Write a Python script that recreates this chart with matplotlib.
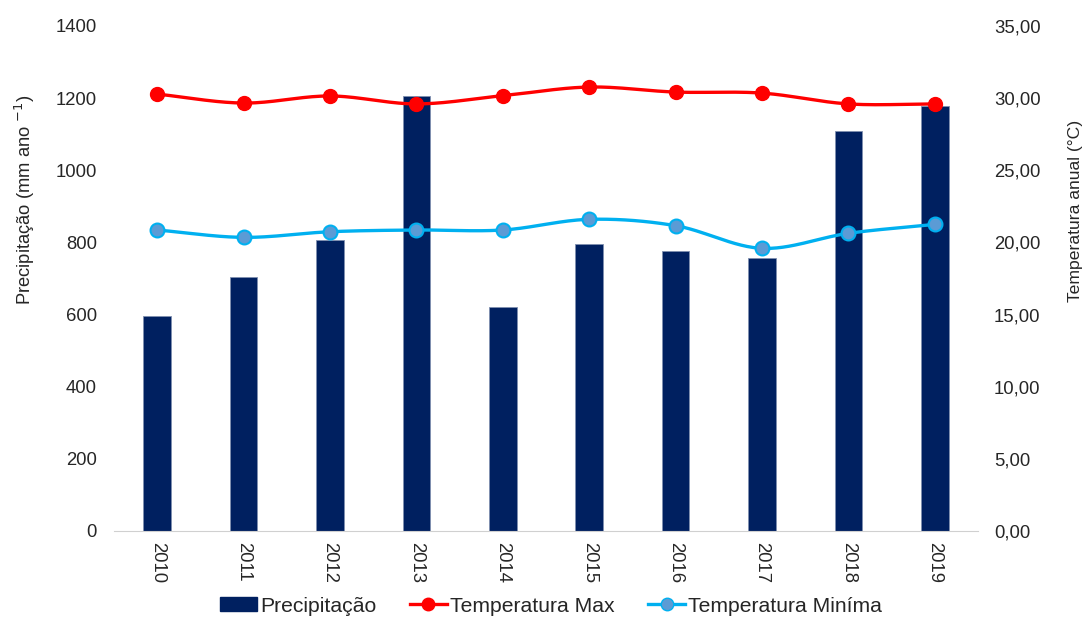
import numpy as np
import matplotlib
matplotlib.use("Agg")
import matplotlib.pyplot as plt
from matplotlib.ticker import FuncFormatter
from matplotlib.lines import Line2D
from matplotlib.patches import Patch

plt.rcParams['font.family'] = ['Liberation Sans', 'DejaVu Sans']

years = ['2010', '2011', '2012', '2013', '2014', '2015', '2016', '2017', '2018', '2019']
precipitacao = [595, 704, 807, 1205, 621, 796, 776, 757, 1109, 1178]
temp_max = [30.28, 29.66, 30.15, 29.60, 30.17, 30.77, 30.42, 30.35, 29.60, 29.60]
temp_min = [20.86, 20.35, 20.74, 20.86, 20.86, 21.60, 21.16, 19.59, 20.63, 21.25]

BAR = '#002060'
RED = '#FF0000'
CYAN = '#00B0F0'
MARK_MIN = '#5B9BD5'
TXT = '#262626'


def smooth(x, y, n=30):
    """Catmull-Rom curve through the points, like a spreadsheet's smoothed line."""
    x = np.asarray(x, float)
    y = np.asarray(y, float)
    px = np.concatenate([[2 * x[0] - x[1]], x, [2 * x[-1] - x[-2]]])
    py = np.concatenate([[2 * y[0] - y[1]], y, [2 * y[-1] - y[-2]]])
    xs, ys = [], []
    t = np.linspace(0, 1, n)
    for i in range(1, len(px) - 2):
        p0x, p1x, p2x, p3x = px[i - 1:i + 3]
        p0y, p1y, p2y, p3y = py[i - 1:i + 3]
        t2, t3 = t * t, t * t * t
        cx = 0.5 * (2 * p1x + (-p0x + p2x) * t + (2 * p0x - 5 * p1x + 4 * p2x - p3x) * t2 + (-p0x + 3 * p1x - 3 * p2x + p3x) * t3)
        cy = 0.5 * (2 * p1y + (-p0y + p2y) * t + (2 * p0y - 5 * p1y + 4 * p2y - p3y) * t2 + (-p0y + 3 * p1y - 3 * p2y + p3y) * t3)
        xs.append(cx)
        ys.append(cy)
    return np.concatenate(xs), np.concatenate(ys)


fig = plt.figure(figsize=(10.89, 6.19), dpi=100)
ax = fig.add_axes([0.1047, 0.1422, 0.7933, 0.8158])
x = np.arange(len(years))

ax.bar(x, precipitacao, width=0.32, color=BAR, edgecolor='#8090b0', linewidth=0.6, zorder=2)
ax.set_ylim(0, 1400)
ax.set_yticks(np.arange(0, 1401, 200))
ax.set_xlim(-0.5, len(years) - 0.5)
ax.set_xticks(x)
ax.set_xticklabels(years, rotation=-90)
ax.tick_params(axis='both', length=0, labelsize=13.3, colors=TXT)
ax.tick_params(axis='y', pad=12.2)
ax.tick_params(axis='x', pad=7.7)
for s in ['top', 'left', 'right']:
    ax.spines[s].set_visible(False)
ax.spines['bottom'].set_color('#d0d0d0')

ax2 = ax.twinx()
ax2.set_ylim(0, 35)
ax2.set_yticks(np.arange(0, 35.1, 5))
ax2.yaxis.set_major_formatter(FuncFormatter(lambda v, p: f'{v:.2f}'.replace('.', ',')))
ax2.tick_params(axis='y', length=0, labelsize=13.3, colors=TXT, pad=11.5)
for s in ['top', 'left', 'right', 'bottom']:
    ax2.spines[s].set_visible(False)

fig.text(0.023, 0.677, 'Precipitação (mm ano $^{-1}$)', rotation=90, ha='center', va='center',
         fontsize=13.2, color=TXT)
fig.text(0.988, 0.660, 'Temperatura anual (°C)', rotation=90, ha='center', va='center',
         fontsize=12.6, color=TXT)

sx, sy = smooth(x, temp_max)
ax2.plot(sx, sy, color=RED, lw=2.4, zorder=3, solid_capstyle='round')
ax2.plot(x, temp_max, 'o', color=RED, ms=10, zorder=4)
sx, sy = smooth(x, temp_min)
ax2.plot(sx, sy, color=CYAN, lw=2.4, zorder=3, solid_capstyle='round')
ax2.plot(x, temp_min, 'o', color=MARK_MIN, mec=CYAN, mew=1.5, ms=10, zorder=4)

handles = [
    Patch(facecolor=BAR, edgecolor=BAR),
    Line2D([], [], color=RED, lw=2.4, marker='o', ms=9),
    Line2D([], [], color=CYAN, lw=2.4, marker='o', ms=9, mfc=MARK_MIN, mec=CYAN),
]
fig.legend(handles, ['Precipitação', 'Temperatura Max', 'Temperatura Miníma'],
           loc='center', bbox_to_anchor=(0.506, 0.021), ncol=3, frameon=False,
           fontsize=15.2, handlelength=1.75, handleheight=0.6, handletextpad=0.15,
           columnspacing=1.6, labelcolor=TXT, borderpad=0)

fig.savefig('out.png', dpi=100)
